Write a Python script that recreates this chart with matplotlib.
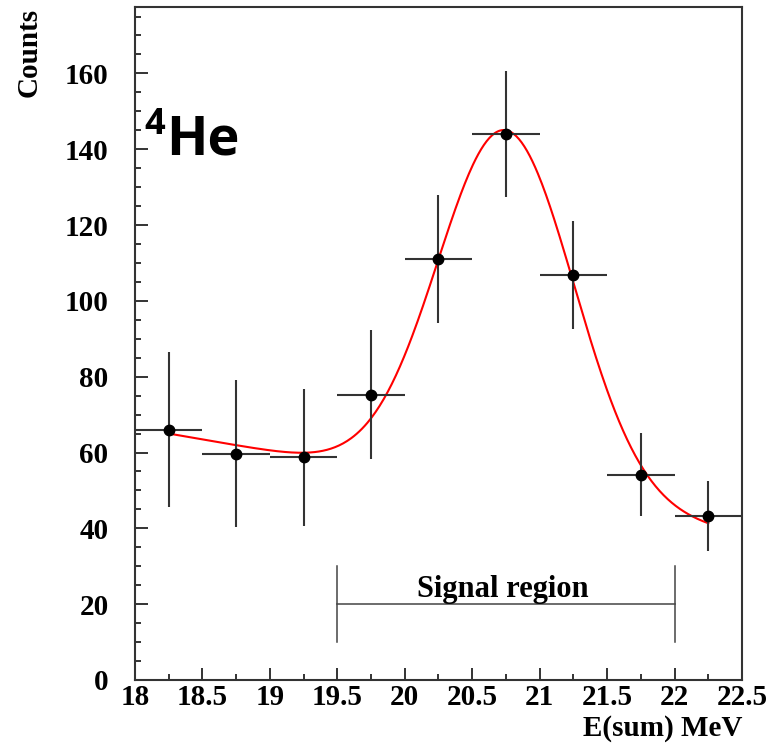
import matplotlib

matplotlib.use("Agg")
import matplotlib.pyplot as plt
import numpy as np
from matplotlib.ticker import MultipleLocator

# Bin centres and counts.
e_centres = np.array([18.25, 18.75, 19.25, 19.75, 20.25, 20.75, 21.25, 21.75, 22.25])
counts = np.array([66.0, 59.7, 58.7, 75.3, 111.0, 144.1, 106.8, 54.2, 43.2])
count_err = np.array([20.5, 19.3, 18.1, 17.1, 16.8, 16.6, 14.2, 11.0, 9.3])
bin_half = 0.25

# Fit: gaussian on a linear background (parameters estimated from the curve).
gaus_amp = 95.5
gaus_mean = 20.75
gaus_sigma = 0.504
bkg_at_mean = 49.5
bkg_slope = -6.2
fit_range = (18.25, 22.25)

signal_lo, signal_hi = 19.5, 22.0
signal_y = 20

serif = ["Liberation Serif", "DejaVu Serif"]
plt.rcParams.update(
    {
        "font.family": serif,
        "font.weight": "bold",
        "font.size": 21,
        "axes.linewidth": 1.5,
        "axes.edgecolor": "#333333",
    }
)

fig = plt.figure(figsize=(7.77, 7.47), dpi=100)
ax = fig.add_axes([0.1737, 0.0897, 0.7813, 0.9009])

xf = np.linspace(*fit_range, 400)
yf = bkg_at_mean + bkg_slope * (xf - gaus_mean) + gaus_amp * np.exp(-0.5 * ((xf - gaus_mean) / gaus_sigma) ** 2)
ax.plot(xf, yf, color="#ff0000", lw=1.5, zorder=2)

ax.errorbar(
    e_centres, counts, xerr=bin_half, yerr=count_err,
    fmt="o", color="black", ms=7.5, ecolor="#333333", elinewidth=1.5, capsize=0, zorder=3,
)

# signal region marker
ax.plot([signal_lo, signal_hi], [signal_y, signal_y], color="#444444", lw=1.1)
ax.plot([signal_lo, signal_lo], [signal_y - 10, signal_y + 10], color="#444444", lw=1.1)
ax.plot([signal_hi, signal_hi], [signal_y - 10, signal_y + 10], color="#444444", lw=1.1)
ax.text((signal_lo + signal_hi) / 2 - 0.02, signal_y + 2.0, "Signal region", ha="center", va="baseline",
        fontsize=22, fontweight="bold")

ax.text(18.23, 138.5, "He", fontfamily=["Open Sans", "DejaVu Sans"], fontweight="bold",
        fontsize=39, ha="left", va="baseline")
ax.text(18.07, 151, "4", fontfamily=["Open Sans", "DejaVu Sans"], fontweight="bold",
        fontsize=26, ha="left", va="top")

ax.set_xlim(18, 22.5)
ax.set_ylim(0, 177.5)
ax.xaxis.set_major_locator(MultipleLocator(0.5))
ax.xaxis.set_minor_locator(MultipleLocator(0.25))
ax.yaxis.set_major_locator(MultipleLocator(20))
ax.yaxis.set_minor_locator(MultipleLocator(5))
ax.set_xticks(np.arange(18, 22.51, 0.5))
ax.set_xticklabels(["18", "18.5", "19", "19.5", "20", "20.5", "21", "21.5", "22", "22.5"])
ax.tick_params(which="both", direction="in", color="#333333", width=1.4)
ax.tick_params(which="major", length=9)
ax.tick_params(which="minor", length=4.5)
ax.tick_params(axis="y", pad=19)
ax.tick_params(axis="x", pad=3)

fig.text(0.955, 0.025, "E(sum) MeV", ha="right", va="center", fontsize=21, fontweight="bold")
fig.text(0.038, 0.99, "Counts", ha="center", va="top", rotation=90, fontsize=21, fontweight="bold")

fig.savefig("out.png", dpi=100)
